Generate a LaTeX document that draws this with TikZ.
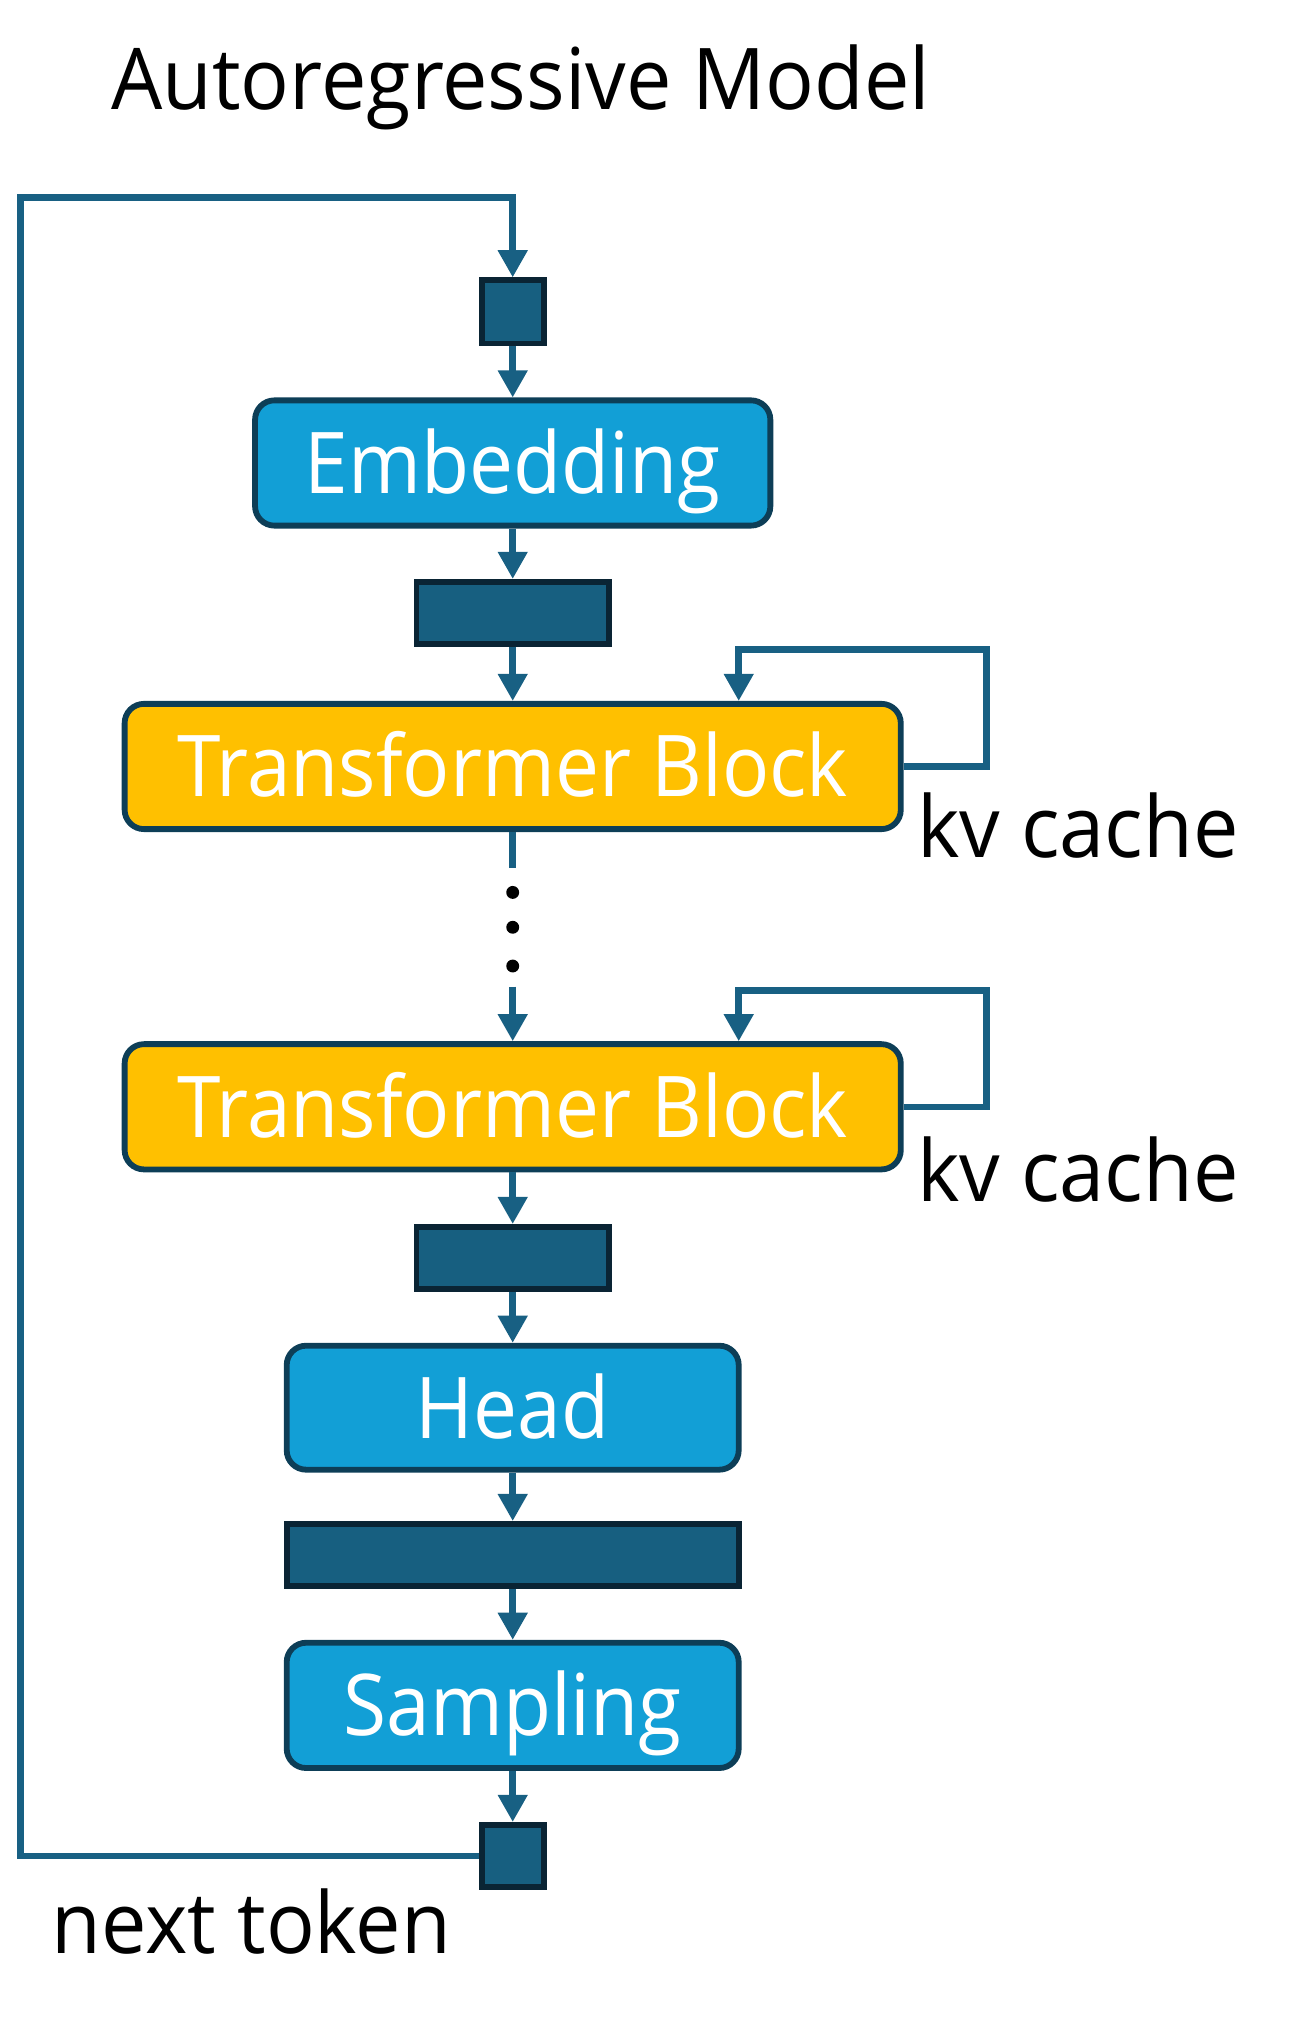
\documentclass[tikz,border=0pt]{standalone}
\usepackage{fontspec}
\setmainfont{Open Sans}[FakeStretch=0.92]
\newfontfamily\labelfont{Open Sans}[FakeStretch=0.95]
\usetikzlibrary{arrows.meta}
\definecolor{boxblue}{HTML}{129FD6}
\definecolor{boxorange}{HTML}{FFC000}
\definecolor{boxborder}{HTML}{0D3E57}
\definecolor{barfill}{HTML}{175F80}
\definecolor{barborder}{HTML}{0A2434}
\definecolor{linecol}{HTML}{186083}
\tikzset{
  bigtext/.style={font=\fontsize{66}{70}\selectfont},
  module/.style={draw=boxborder, line width=4.5pt, rounded corners=15pt,
    inner sep=0pt, text=white, bigtext, text height=47pt, text depth=0pt,
    minimum height=97pt},
  bluebox/.style={module, fill=boxblue},
  orangebox/.style={module, fill=boxorange},
  tensor/.style={draw=barborder, fill=barfill, line width=4.5pt, inner sep=0pt,
    minimum height=48pt},
  arr/.style={draw=linecol, line width=5pt,
    -{Triangle[length=21pt,width=22pt]}},
  plain/.style={draw=linecol, line width=5pt},
  label/.style={font=\labelfont\fontsize{66}{70}\selectfont, anchor=base west,
    inner sep=0pt, text=black},
  dot/.style={circle, fill=black, inner sep=0pt, minimum size=10pt},
}
\begin{document}
\begin{tikzpicture}[x=1pt, y=-1pt]
\useasboundingbox (0,0) rectangle (1000,1568);
\node[label] (title) at (86,85) {Autoregressive Model};

\node[tensor, minimum width=48pt, minimum height=49pt] (sq1) at (397,241.5) {};
\node[bluebox, minimum width=399pt] (emb) at (397,358.5) {Embedding};
\node[tensor, minimum width=149pt] (bar1) at (397,474.5) {};
\node[orangebox, minimum width=601pt] (tb1) at (397,593.5) {Transformer Block};
\node[orangebox, minimum width=601pt] (tb2) at (397,857) {Transformer Block};
\node[tensor, minimum width=149pt] (bar2) at (397,974) {};
\node[bluebox, minimum width=350pt, minimum height=96pt] (head) at (397,1090) {Head};
\node[tensor, minimum width=350pt] (bar3) at (397,1204) {};
\node[bluebox, minimum width=350pt] (samp) at (397,1320.5) {Sampling};
\node[tensor, minimum width=48pt, minimum height=48pt] (sq2) at (397,1437) {};

\node[label] (kv1) at (710,664) {kv cache};
\node[label] (kv2) at (710,930) {kv cache};
\node[label] (next) at (40,1513) {next token};

\coordinate (c1) at (397,672);
\coordinate (c2) at (397,764);
\node[dot] (d1) at (397,691) {};
\node[dot] (d2) at (397,718) {};
\node[dot] (d3) at (397,748) {};

\draw[arr] (sq1) -- (emb);
\draw[arr] (emb) -- (bar1);
\draw[arr] (bar1) -- (tb1);
\draw[plain] (tb1.south) -- (c1);
\draw[arr] (c2) -- (tb2.north);
\draw[arr] (tb2) -- (bar2);
\draw[arr] (bar2) -- (head);
\draw[arr] (head) -- (bar3);
\draw[arr] (bar3) -- (samp);
\draw[arr] (samp) -- (sq2);

\coordinate (k1) at (572,503);
\coordinate (k2) at (572,767);
\draw[arr] (tb1.east) -- ++(64,0) |- (k1) -- (k1 |- tb1.north);
\draw[arr] (tb2.east) -- ++(64,0) |- (k2) -- (k2 |- tb2.north);

\coordinate (loop) at (16,153);
\draw[arr] (sq2.west) -| (loop) -| (sq1.north);
\end{tikzpicture}
\end{document}
